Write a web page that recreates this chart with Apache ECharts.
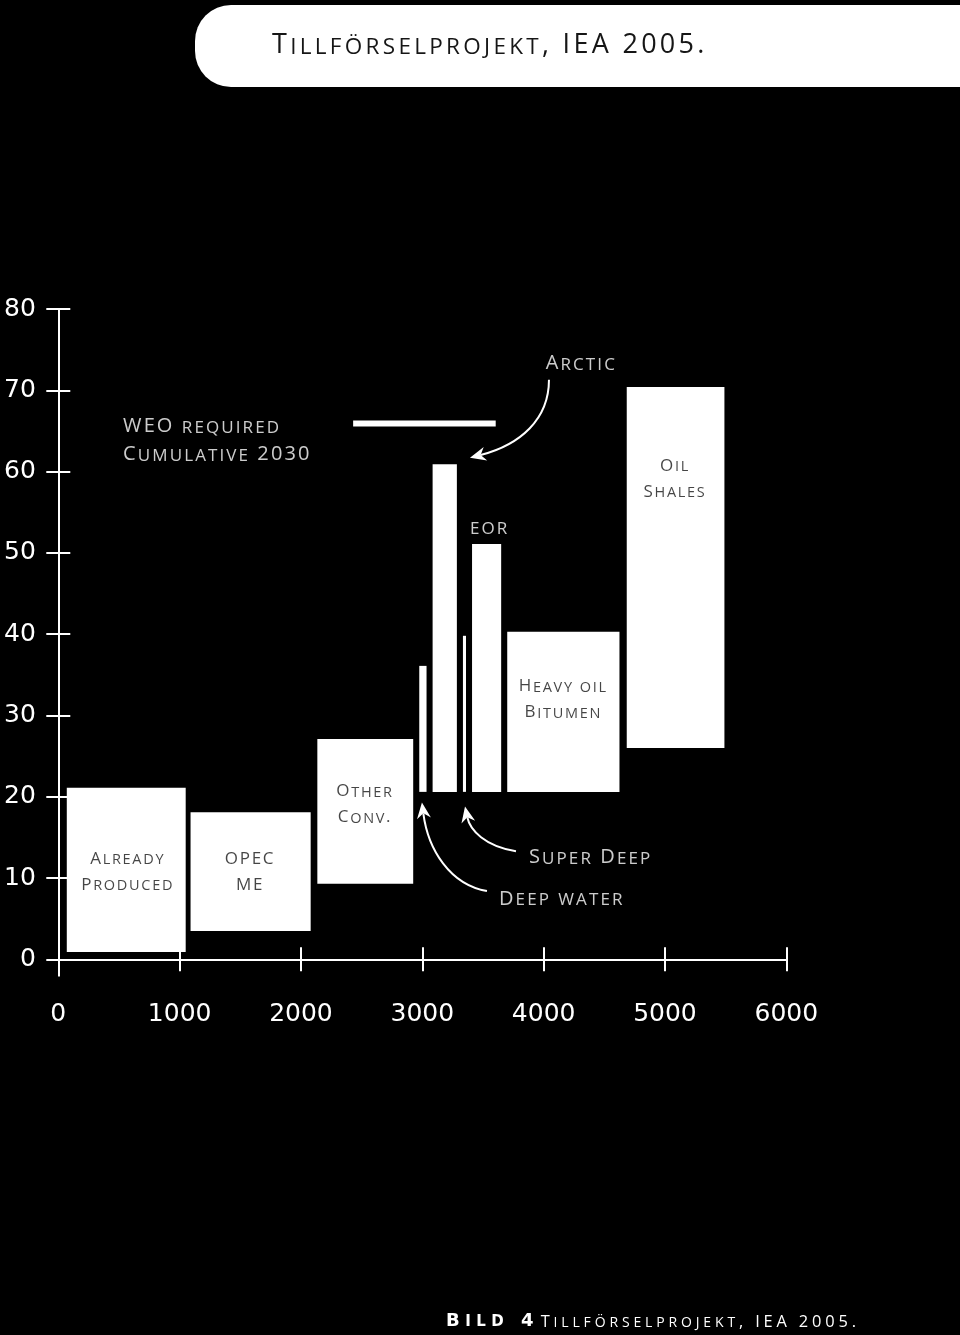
<!DOCTYPE html>
<html><head><meta charset="utf-8">
<script src="https://cdn.jsdelivr.net/npm/echarts@6/dist/echarts.min.js"></script>
<style>html,body{margin:0;padding:0;background:#000;}#c{width:960px;height:1335px;}</style>
</head><body><div id="c"></div>
<script>
// ---- data ----
const xTicks = [0, 1000, 2000, 3000, 4000, 5000, 6000];
const yTicks = [0, 10, 20, 30, 40, 50, 60, 70, 80];
const projects = ['Already Produced', 'OPEC ME', 'Other Conv.', 'Deep water', 'Arctic', 'Super Deep', 'eor', 'Heavy oil Bitumen', 'Oil Shales'];
const volStart = [70, 1090, 2135, 2975, 3085, 3335, 3410, 3700, 4685];
const volEnd   = [1050, 2080, 2925, 3035, 3285, 3360, 3650, 4625, 5490];
const costLow  = [0.9, 3.5, 9.3, 20.6, 20.6, 20.6, 20.6, 20.6, 26.0];
const costHigh = [21.1, 18.1, 27.1, 36.1, 60.9, 39.8, 51.1, 40.3, 70.4];

const innerLabels = ['Already\nProduced', 'OPEC\nME', 'Other\nConv.', 'Heavy oil\nBitumen', 'Oil\nShales'];
const innerLabelX = [572, 1580, 2528, 4162, 5083];
const innerLabelY = [11.3, 11.3, 19.6, 32.5, 59.6];

const outerLabels = ['WEO required\nCumulative 2030', 'Arctic', 'eor', 'Super Deep', 'Deep water'];
const outerLabelX = [534, 4017, 3393, 3879, 3632];
const outerLabelY = [64.3, 73.8, 53.6, 13.0, 7.9];

const weoVolume = [2430, 3605];
const weoCost = 65.9;

// cubic curves: start, control1, control2, tip (volume, cost)
const arrowCurves = [
  [4044, 71.3, 4044, 66.4, 3805, 63.3, 3393, 61.7],
  [3533, 8.4, 3228, 9.2, 3047, 13.5, 2997, 19.3],
  [3772, 13.3, 3517, 13.9, 3393, 15.9, 3352, 18.8]
];

const titleText = 'Tillförselprojekt, IEA 2005.';
const captionPrefix = 'Bild 4';

// ---- helpers ----
// small caps: capitals/digits/punctuation in "big" style, lower case letters upper-cased in "small" style,
// one token per character so that each token can carry tracking
function smallCaps(str, big, small) {
  let out = '';
  for (const ch of str) {
    if (ch === '\n') { out += '\n'; continue; }
    const isLower = ch !== ch.toUpperCase();
    out += '{' + (isLower ? small : big) + '|' + (isLower ? ch.toUpperCase() : ch) + '}';
  }
  return out;
}

const FONT = '"Open Sans", "DejaVu Sans", sans-serif';
const NUMFONT = '"DejaVu Sans", sans-serif';
const DARK = '#161616';

function tokenStyle(family, size, color, lh, track, weight) {
  return { fontFamily: family, fontSize: size, fontWeight: weight || 'normal', color: color,
           lineHeight: lh, verticalAlign: 'bottom', padding: [0, track, 0, 0] };
}
function rich(big, small, color, lh, track) {
  return { B: tokenStyle(FONT, big, color, lh, track), s: tokenStyle(FONT, small, color, lh, track) };
}

const chart = echarts.init(document.getElementById('c'), null, { renderer: 'canvas' });

const axisLineStyle = { color: '#fff', width: 2 };

const option = {
  backgroundColor: '#000',
  animation: false,
  graphic: [{
    type: 'rect', left: 195, top: 5, z: 1,
    shape: { width: 800, height: 82, r: [36, 0, 0, 36] },
    style: { fill: '#fff' }
  }],
  title: [
    {
      text: smallCaps(titleText, 'tB', 'tS'),
      left: 272, top: 25, padding: 0, z: 10,
      textStyle: {
        fontWeight: 'normal',
        rich: {
          tB: tokenStyle(FONT, 27, DARK, 34, 3.3),
          tS: tokenStyle(FONT, 22.5, DARK, 34, 3.3)
        }
      }
    },
    {
      text: smallCaps(captionPrefix, 'bB', 'bS') + '{sp| }' + smallCaps(titleText, 'cB', 'cS'),
      left: 446, top: 1310, padding: 0,
      textStyle: {
        fontWeight: 'normal',
        rich: {
          bB: tokenStyle(NUMFONT, 18, '#fff', 20, 5.5, 'bold'),
          bS: tokenStyle(NUMFONT, 15, '#fff', 20, 5.5, 'bold'),
          sp: tokenStyle(FONT, 6, '#fff', 20, 0),
          cB: tokenStyle(FONT, 16.4, '#fff', 20, 3.85),
          cS: tokenStyle(FONT, 14, '#fff', 20, 3.85)
        }
      }
    }
  ],
  grid: { left: 49.8, right: 173.7, top: 309, bottom: 359.4, containLabel: false, outerBoundsMode: 'none' },
  xAxis: [
    {
      type: 'value', min: -70, max: 6000, position: 'bottom',
      axisLine: { show: true, onZero: true, lineStyle: axisLineStyle },
      axisTick: { show: true, inside: false, length: 12, customValues: xTicks, lineStyle: axisLineStyle },
      axisLabel: { show: true, customValues: xTicks, formatter: v => String(v), color: '#fff', fontFamily: NUMFONT, fontSize: 25, margin: 26 },
      splitLine: { show: false }
    },
    {
      type: 'value', min: -70, max: 6000, position: 'bottom',
      axisLine: { show: true, onZero: true, onZeroAxisIndex: 0, lineStyle: axisLineStyle },
      axisTick: { show: true, inside: true, length: 12, customValues: xTicks, lineStyle: axisLineStyle },
      axisLabel: { show: false },
      splitLine: { show: false }
    }
  ],
  yAxis: [
    {
      type: 'value', min: -2, max: 80, position: 'left',
      axisLine: { show: true, onZero: true, lineStyle: axisLineStyle },
      axisTick: { show: true, inside: false, length: 12, customValues: yTicks, lineStyle: axisLineStyle },
      axisLabel: { show: true, customValues: yTicks, formatter: v => String(v), color: '#fff', fontFamily: NUMFONT, fontSize: 25, margin: 14 },
      splitLine: { show: false }
    },
    {
      type: 'value', min: -2, max: 80, position: 'left',
      axisLine: { show: true, onZero: true, onZeroAxisIndex: 0, lineStyle: axisLineStyle },
      axisTick: { show: true, inside: true, length: 12, customValues: yTicks, lineStyle: axisLineStyle },
      axisLabel: { show: false },
      splitLine: { show: false }
    }
  ],
  series: [
    {
      name: 'projects', type: 'custom', xAxisIndex: 0, yAxisIndex: 0,
      renderItem: function (params, api) {
        const p0 = api.coord([api.value(0), api.value(3)]);
        const p1 = api.coord([api.value(1), api.value(2)]);
        return {
          type: 'rect',
          shape: { x: p0[0], y: p0[1], width: p1[0] - p0[0], height: p1[1] - p0[1] },
          style: { fill: '#fff' }
        };
      },
      encode: { x: [0, 1], y: [2, 3] },
      data: projects.map((n, i) => ({ name: n, value: [volStart[i], volEnd[i], costLow[i], costHigh[i]] }))
    },
    {
      name: 'WEO required', type: 'line', xAxisIndex: 0, yAxisIndex: 0,
      symbol: 'none', lineStyle: { color: '#fff', width: 6 },
      data: weoVolume.map(v => [v, weoCost]), z: 3
    },
    {
      name: 'arrows', type: 'custom', xAxisIndex: 0, yAxisIndex: 0, z: 4,
      renderItem: function (params, api) {
        const c = arrowCurves[params.dataIndex];
        const P = [0, 1, 2, 3].map(k => api.coord([c[2 * k], c[2 * k + 1]]));
        const dx = P[3][0] - P[2][0], dy = P[3][1] - P[2][1];
        const len = Math.sqrt(dx * dx + dy * dy) || 1;
        const ux = dx / len, uy = dy / len, nx = -uy, ny = ux;
        const L = 16, W = 7, N = 5;
        const tip = P[3];
        const back = [tip[0] - ux * L, tip[1] - uy * L];
        const notch = [tip[0] - ux * (L - N), tip[1] - uy * (L - N)];
        return {
          type: 'group',
          children: [
            {
              type: 'bezierCurve',
              shape: { x1: P[0][0], y1: P[0][1], cpx1: P[1][0], cpy1: P[1][1], cpx2: P[2][0], cpy2: P[2][1], x2: notch[0], y2: notch[1] },
              style: { stroke: '#fff', lineWidth: 2, fill: null }
            },
            {
              type: 'polygon',
              shape: { points: [tip, [back[0] + nx * W, back[1] + ny * W], notch, [back[0] - nx * W, back[1] - ny * W]] },
              style: { fill: '#fff' }
            }
          ]
        };
      },
      data: arrowCurves.map(c => [c[6], c[7]])
    },
    {
      name: 'inner labels', type: 'scatter', xAxisIndex: 0, yAxisIndex: 0, symbolSize: 0, z: 5,
      label: {
        show: true, position: 'inside', align: 'center',
        formatter: p => smallCaps(p.name, 'B', 's'),
        rich: rich(17, 14.5, DARK, 26, 1.7)
      },
      data: innerLabels.map((t, i) => ({ name: t, value: [innerLabelX[i], innerLabelY[i]] }))
    },
    {
      name: 'outer labels', type: 'scatter', xAxisIndex: 0, yAxisIndex: 0, symbolSize: 0, z: 5,
      label: {
        show: true, position: 'right', distance: 0, align: 'left',
        formatter: p => smallCaps(p.name, 'B', 's'),
        rich: rich(20, 17, '#fff', 28, 2.1)
      },
      data: outerLabels.map((t, i) => ({ name: t, value: [outerLabelX[i], outerLabelY[i]] }))
    }
  ]
};
chart.setOption(option);
</script>
</body></html>
